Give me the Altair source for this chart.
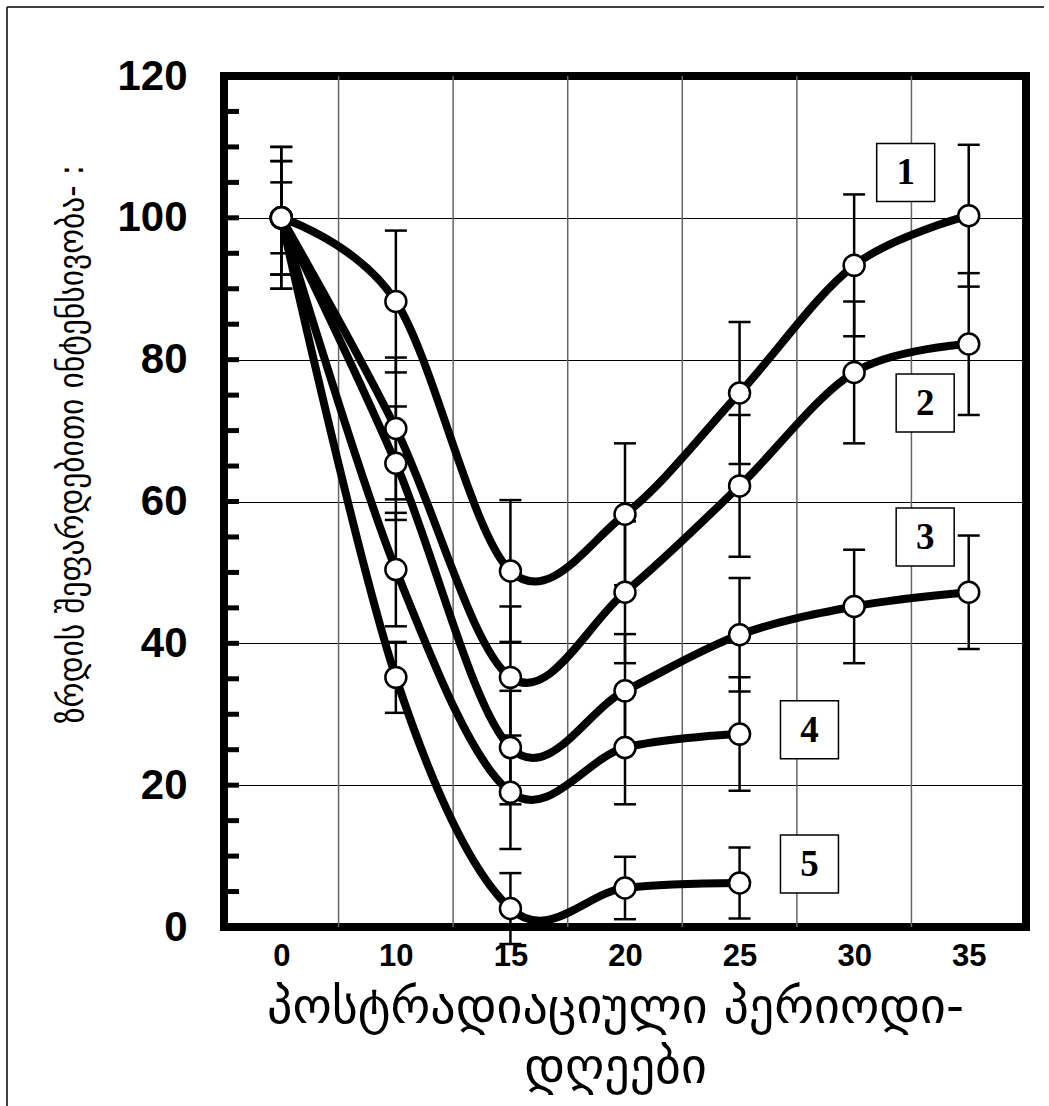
import altair as alt
import pandas as pd

# ---- data ----
days = ["0", "10", "15", "20", "25", "30", "35"]
series_names = ["1", "2", "3", "4", "5"]
s1 = [100, 88.2, 50.2, 58.2, 75.3, 93.3, 100.3]
s2 = [100, 70.3, 35.2, 47.2, 62.2, 78.2, 82.2]
s3 = [100, 65.4, 25.3, 33.3, 41.2, 45.2, 47.2]
s4 = [100, 50.4, 19.0, 25.3, 27.2]
s5 = [100, 35.2, 2.6, 5.5, 6.2]
e1 = [10, 10, 10, 10, 10, 10, 10]
e2 = [10, 10, 10, 10, 10, 10, 10]
e3 = [8, 8, 8, 8, 8, 8, 8]
e4 = [8, 8, 8, 8, 8]
e5 = [5, 5, 5, 4.4, 5]

# annotation boxes (data coordinates)
label_text = ["1", "2", "3", "4", "5"]
label_pos = [5.45, 5.62, 5.62, 4.61, 4.61]
label_val = [106.4, 73.9, 55.0, 27.8, 8.9]

y_ticks = list(range(0, 121, 20))
y_minor = list(range(5, 120, 5))

y_title = "ზრდის შეფარდებითი ინტენსივობა- :"
x_title = ["პოსტრადიაციული  პერიოდი-", "დღეები"]

# ---- tables ----
rows = []
for name, vals, errs in zip(series_names, [s1, s2, s3, s4, s5], [e1, e2, e3, e4, e5]):
    for i, (v, e) in enumerate(zip(vals, errs)):
        rows.append({"series": name, "idx": i, "value": v, "lo": v - e, "hi": v + e})
df = pd.DataFrame(rows)
grid_df = pd.DataFrame({"b": [i + 0.5 for i in range(len(days) - 1)]})
minor_df = pd.DataFrame({"t": y_minor})
lab_df = pd.DataFrame({"label": label_text, "pos": label_pos, "val": label_val})
one_df = pd.DataFrame({"a": [0]})

xs = alt.Scale(domain=[-0.5, len(days) - 0.5], nice=False, zero=False)
ys = alt.Scale(domain=[0, 120], nice=False, zero=False)

label_expr = "[" + ",".join("'%s'" % d for d in days) + "][datum.value]"

x_axis = alt.Axis(
    values=list(range(len(days))), labelExpr=label_expr, grid=False, ticks=False, tickSize=0,
    domain=False, labelFont="Liberation Sans", labelFontSize=31, labelFontWeight="bold",
    labelPadding=14, labelColor="black",
    title=x_title, titleFont="DejaVu Sans", titleFontSize=50, titleFontWeight="normal",
    titleColor="black", titleBaseline="alphabetic", titleLineHeight=60, titleX=391, titleY=95,
    titleAlign="center",
)
y_axis = alt.Axis(
    values=y_ticks, grid=True, gridColor="black", gridWidth=1.2, gridOpacity=1, ticks=False, tickSize=0,
    domain=False, labelFont="Liberation Sans", labelFontSize=42, labelFontWeight="bold",
    labelPadding=37, labelColor="black", title=None,
)


def X(field):
    return alt.X(field, scale=xs, axis=x_axis)


def Y(field):
    return alt.Y(field, scale=ys, axis=y_axis)


vgrid = alt.Chart(grid_df).mark_rule(color="#666666", strokeWidth=1.5).encode(x=X("b:Q"))

minor = alt.Chart(minor_df).mark_rule(color="black", strokeWidth=5).encode(
    x=alt.value(0), x2=alt.value(15), y=Y("t:Q")
)

bars = alt.Chart(df).mark_rule(color="black", strokeWidth=2.5).encode(
    x=X("idx:Q"), y=Y("lo:Q"), y2="hi:Q"
)
cap_lo = alt.Chart(df).mark_tick(orient="horizontal", color="black", size=22, thickness=2.5, opacity=1).encode(
    x=X("idx:Q"), y=Y("lo:Q")
)
cap_hi = alt.Chart(df).mark_tick(orient="horizontal", color="black", size=22, thickness=2.5, opacity=1).encode(
    x=X("idx:Q"), y=Y("hi:Q")
)

lines = alt.Chart(df).mark_line(
    color="black", strokeWidth=8, interpolate="cardinal", tension=0, strokeJoin="round"
).encode(
    x=X("idx:Q"), y=Y("value:Q"), detail="series:N", order="idx:Q",
)

points = alt.Chart(df).mark_point(
    shape="circle", filled=False, fill="white", fillOpacity=1, stroke="black", strokeWidth=2.5,
    size=440, opacity=1,
).encode(x=X("idx:Q"), y=Y("value:Q"))

boxes = alt.Chart(lab_df).mark_point(
    shape="square", filled=False, fill="white", fillOpacity=1, stroke="black", strokeWidth=1.5,
    size=3364, opacity=1,
).encode(x=X("pos:Q"), y=Y("val:Q"))
texts = alt.Chart(lab_df).mark_text(
    font="Liberation Serif", fontWeight="bold", fontSize=37, color="black",
    align="center", baseline="middle", dy=1,
).encode(x=X("pos:Q"), y=Y("val:Q"), text="label:N")

# rotated y-axis title
ytitle = alt.Chart(one_df).mark_text(
    font="DejaVu Sans Condensed, DejaVu Sans", fontSize=35, color="black", angle=270,
    align="center", baseline="alphabetic", clip=False,
).encode(x=alt.value(-141), y=alt.value(368), text=alt.value(y_title))

frame_left = alt.Chart(one_df).mark_rule(color="black", strokeWidth=1.5, clip=False).encode(
    x=alt.value(-217), y=alt.value(-69), y2=alt.value(1040)
)
frame_top = alt.Chart(one_df).mark_rule(color="black", strokeWidth=1.5, clip=False).encode(
    x=alt.value(-217), x2=alt.value(820), y=alt.value(-69)
)

chart = alt.layer(
    vgrid, minor, bars, cap_lo, cap_hi, lines, points, boxes, texts, ytitle, frame_left, frame_top
).properties(
    width=802, height=851,
    autosize=alt.AutoSizeParams(type="none"),
    padding={"left": 224, "top": 76, "right": 23, "bottom": 179},
    background="white",
).configure_view(stroke="black", strokeWidth=8)

chart.save("out.html", embed_options={"renderer": "svg", "actions": False})
